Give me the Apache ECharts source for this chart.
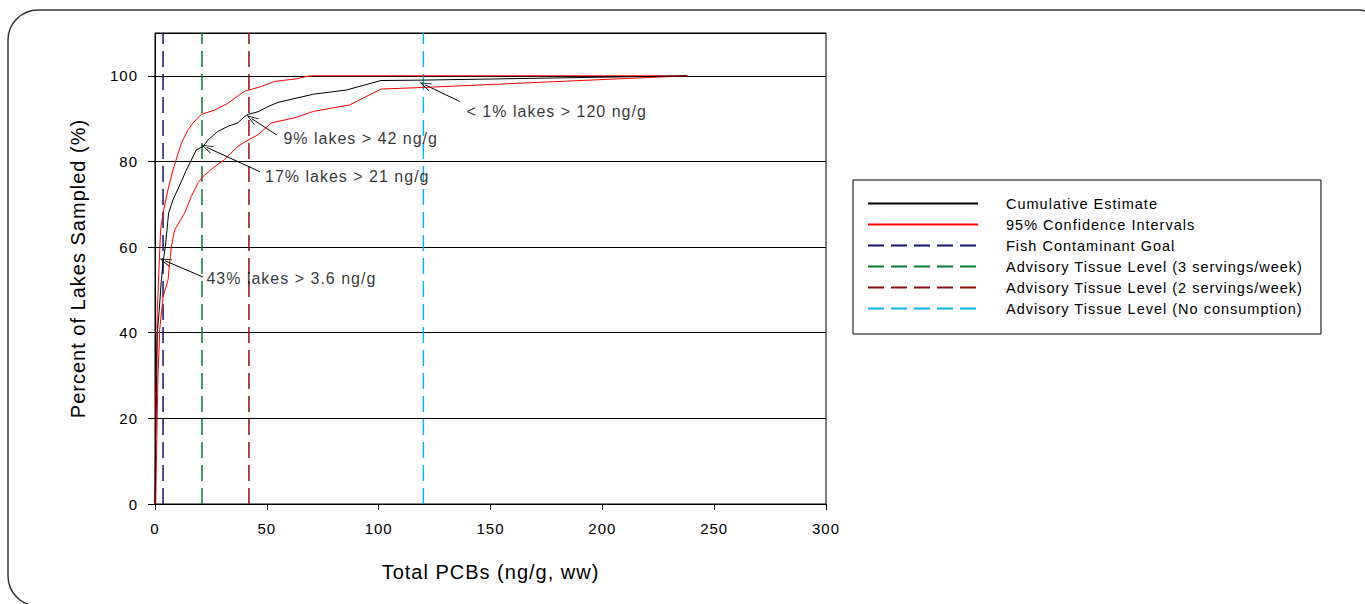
<!DOCTYPE html>
<html>
<head>
<meta charset="utf-8">
<script src="https://cdn.jsdelivr.net/npm/echarts@6/dist/echarts.min.js"></script>
<style>
html,body{margin:0;padding:0;background:#fff;}
#chart{width:1365px;height:604px;}
#chart text{letter-spacing:1px;}
</style>
</head>
<body>
<div id="chart"></div>
<script>
// ---- data ----
var cumulativeEstimate = [[0,0],[0.3,15],[0.8,30],[1.0,40],[1.8,44.6],[2.8,52],[3.6,56.5],[4.6,60],[6.1,68],[8,71],[11.5,75],[14,78],[18.5,82.7],[21.5,83.5],[23.7,85],[28,87],[32.6,88.2],[37,89],[40,90.5],[41.6,91],[46,91.6],[50.5,92.8],[55,93.8],[70.8,95.7],[85.7,96.7],[101,98.9],[120,99],[238,100]];
var upperCI = [[0,0],[0.4,25],[1,44.6],[1.8,55],[2.5,64],[3.6,68],[5.8,73.4],[8,78],[11.8,84.3],[14.8,87.4],[17,89],[20.7,91],[26.7,92],[32.6,93.6],[40,96.4],[47.5,97.5],[53.5,98.7],[63.3,99.3],[69,100],[238,100]];
var lowerCI = [[0.3,0],[0.8,15],[1.3,29],[2.1,40.7],[3.6,48.4],[5.8,52.3],[7.3,60],[8.8,64],[13.3,68],[16.2,71.8],[19.2,75],[21.5,76.5],[26.7,78.8],[31,80.4],[37,83.5],[41.6,85],[46,86.2],[52,89],[63.3,90.3],[70.8,91.7],[87,93.2],[101,96.9],[120.7,97.3],[238,100]];
var thresholdNames = ['Fish Contaminant Goal','Advisory Tissue Level (3 servings/week)','Advisory Tissue Level (2 servings/week)','Advisory Tissue Level (No consumption)'];
var thresholdValues = [3.6, 21, 42, 120];
var thresholdColors = ['#14146a','#0a7a36','#8a1010','#12b0ea'];
var annotationTexts = ['43% lakes > 3.6 ng/g','17% lakes > 21 ng/g','9% lakes > 42 ng/g','< 1% lakes > 120 ng/g'];
var annotationTextPos = [[23.0,52.6],[49.2,76.5],[57.4,85.4],[139.3,91.7]];
var arrowTails = [[21.5,53.0],[46.9,77.6],[54.4,86.2],[136.3,94.0]];
var arrowTips = [[4.5,56.8],[23.1,83.3],[43.2,90.0],[120.7,97.9]];
var xTicks = {min:0, max:300, interval:50};
var yTicks = {min:0, max:110, interval:20};
var legendNames = ['Cumulative Estimate','95% Confidence Intervals'].concat(thresholdNames);

var FONT = 'Liberation Sans, Arial, Helvetica, sans-serif';
var chart = echarts.init(document.getElementById('chart'), null, {renderer:'svg'});

var series = [
  {name:'Cumulative Estimate', type:'line', data:cumulativeEstimate, symbol:'none', z:5,
   lineStyle:{color:'#000', width:1}, itemStyle:{color:'#000'}},
  {name:'95% Confidence Intervals', type:'line', data:upperCI, symbol:'none', z:4,
   lineStyle:{color:'#ff0000', width:1}, itemStyle:{color:'#ff0000'}},
  {name:'95% Confidence Intervals', type:'line', data:lowerCI, symbol:'none', z:4,
   lineStyle:{color:'#ff0000', width:1}, itemStyle:{color:'#ff0000'}}
];
thresholdValues.forEach(function(v,i){
  series.push({name:thresholdNames[i], type:'line', symbol:'none', z:3,
    data:[[v,yTicks.min],[v,yTicks.max]],
    lineStyle:{color:thresholdColors[i], width:1.5, type:[16,7]},
    itemStyle:{color:thresholdColors[i]}});
});
var arrowPath = 'path://M5,0 L10,12 L9,12 L5,2.5 L1,12 L0,12 Z';
series.push({
  name:'annotations', type:'scatter', symbolSize:0, z:6, silent:true,
  data:annotationTextPos.map(function(p,i){return {value:p, label:{formatter:annotationTexts[i]}};}),
  label:{show:true, position:'right', distance:0, color:'#000', fontSize:16, fontFamily:FONT},
  markLine:{silent:true, symbol:['none', arrowPath], symbolSize:[8,12],
    lineStyle:{color:'#000', width:1, type:'solid'}, label:{show:false},
    emphasis:{disabled:true},
    data:arrowTails.map(function(t,i){return [{coord:t},{coord:arrowTips[i]}];})}
});

chart.setOption({
  backgroundColor:'#fff',
  animation:false,
  graphic:[{type:'rect', silent:true, z:-1,
    shape:{x:8, y:10, width:1380, height:596, r:30},
    style:{fill:'none', stroke:'#333', lineWidth:1.5}}],
  grid:{left:155, top:33, right:539, bottom:100, show:true, borderColor:'#000', borderWidth:1, backgroundColor:'transparent'},
  legend:{show:true, orient:'vertical', left:853, top:180, data:legendNames,
    itemWidth:110, itemHeight:14, itemGap:6, padding:[16,56,18,14],
    borderColor:'#000', borderWidth:1, backgroundColor:'#fff',
    selectedMode:false,
    itemStyle:{opacity:0},
    textStyle:{color:'#000', fontSize:14.5, fontFamily:FONT, padding:[0,0,0,23]}},
  xAxis:{type:'value', min:xTicks.min, max:xTicks.max, interval:xTicks.interval,
    name:'Total PCBs (ng/g, ww)', nameLocation:'middle', nameGap:58,
    nameTextStyle:{color:'#000', fontSize:20, fontFamily:FONT},
    axisLine:{show:true, lineStyle:{color:'#000', width:1}},
    axisTick:{show:true, inside:false, length:6, lineStyle:{color:'#000'}},
    axisLabel:{color:'#000', fontSize:15, fontFamily:FONT, margin:17},
    splitLine:{show:false}},
  yAxis:{type:'value', min:yTicks.min, max:yTicks.max, interval:yTicks.interval,
    name:'Percent of Lakes Sampled (%)', nameLocation:'middle', nameGap:67,
    nameTextStyle:{color:'#000', fontSize:20, fontFamily:FONT},
    axisLine:{show:true, lineStyle:{color:'#000', width:1}},
    axisTick:{show:true, inside:false, length:7, lineStyle:{color:'#000'}},
    axisLabel:{color:'#000', fontSize:15, fontFamily:FONT, margin:17, showMaxLabel:false},
    splitLine:{show:true, lineStyle:{color:'#000', width:1}}},
  series:series
});
</script>
</body>
</html>
